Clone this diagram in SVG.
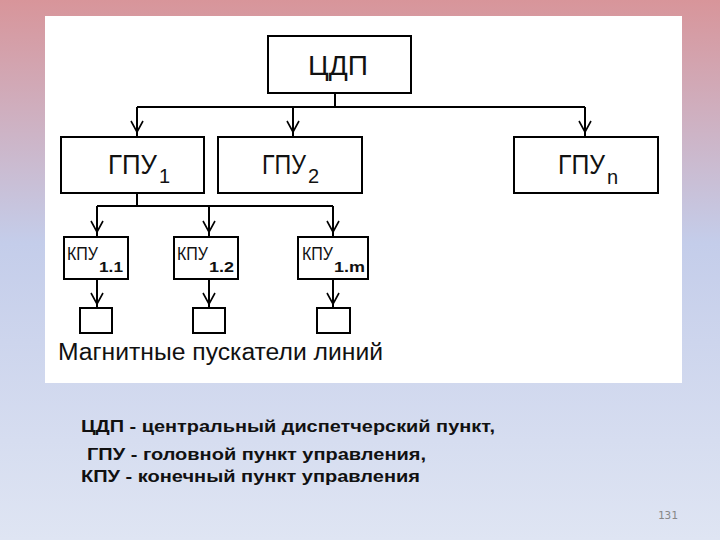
<svg xmlns="http://www.w3.org/2000/svg" width="720" height="540" viewBox="0 0 720 540">
<defs>
<linearGradient id="bg" x1="0" y1="0" x2="0" y2="1">
<stop offset="0" stop-color="#d8959a"/>
<stop offset="0.45" stop-color="#c4cdea"/>
<stop offset="1" stop-color="#dfe5f3"/>
</linearGradient>
<marker id="v" markerWidth="14" markerHeight="14" refX="7" refY="12" orient="0" markerUnits="userSpaceOnUse" viewBox="0 0 14 14">
<path d="M1,1 L7,12 L13,1" fill="none" stroke="#000" stroke-width="1.6"/>
</marker>
<style>
.box{fill:#fff;stroke:#000;stroke-width:2}
.ln{fill:none;stroke:#000;stroke-width:2}
.t{font-family:"Liberation Sans",Arial,sans-serif;fill:#111}
.leg{font-family:"Liberation Sans",Arial,sans-serif;font-weight:bold;font-size:17px;fill:#111}
</style>
</defs>
<rect x="0" y="0" width="720" height="540" fill="url(#bg)"/>
<rect x="45" y="16" width="637" height="367" fill="#fff"/>

<g id="connectors">
<path class="ln" d="M335,93 V107 M137,107 H585"/>
<path class="ln" d="M137,107 V132" marker-end="url(#v)"/>
<path class="ln" d="M137,132 V137"/>
<path class="ln" d="M293,107 V132" marker-end="url(#v)"/>
<path class="ln" d="M293,132 V137"/>
<path class="ln" d="M585,107 V132" marker-end="url(#v)"/>
<path class="ln" d="M585,132 V137"/>
<path class="ln" d="M137,193 V206 M97,206 H333"/>
<path class="ln" d="M97,206 V232" marker-end="url(#v)"/>
<path class="ln" d="M97,232 V237"/>
<path class="ln" d="M209,206 V232" marker-end="url(#v)"/>
<path class="ln" d="M209,232 V237"/>
<path class="ln" d="M333,206 V232" marker-end="url(#v)"/>
<path class="ln" d="M333,232 V237"/>
<path class="ln" d="M97,279 V304" marker-end="url(#v)"/>
<path class="ln" d="M97,304 V308"/>
<path class="ln" d="M209,279 V304" marker-end="url(#v)"/>
<path class="ln" d="M209,304 V308"/>
<path class="ln" d="M333,279 V304" marker-end="url(#v)"/>
<path class="ln" d="M333,304 V308"/>
</g>

<g id="cdp">
<rect class="box" x="268" y="36" width="143" height="57"/>
<text class="t" x="308" y="75" font-size="28" textLength="60" lengthAdjust="spacingAndGlyphs">ЦДП</text>
</g>
<g id="gpu1">
<rect class="box" x="61" y="137" width="143" height="56"/>
<text class="t" x="108" y="174" font-size="28" textLength="49" lengthAdjust="spacingAndGlyphs">ГПУ</text>
<text class="t" x="159" y="183" font-size="20">1</text>
</g>
<g id="gpu2">
<rect class="box" x="218" y="137" width="144" height="56"/>
<text class="t" x="262" y="174" font-size="28" textLength="44" lengthAdjust="spacingAndGlyphs">ГПУ</text>
<text class="t" x="308" y="183" font-size="20">2</text>
</g>
<g id="gpun">
<rect class="box" x="514" y="137" width="144" height="56"/>
<text class="t" x="558" y="174" font-size="28" textLength="47" lengthAdjust="spacingAndGlyphs">ГПУ</text>
<text class="t" x="607" y="184" font-size="20">n</text>
</g>
<g id="kpu11">
<rect class="box" x="64" y="237" width="64" height="42"/>
<text class="t" x="67" y="260" font-size="18" textLength="31" lengthAdjust="spacingAndGlyphs">КПУ</text>
<text class="t" x="99" y="272" font-size="15" font-weight="bold" textLength="24" lengthAdjust="spacingAndGlyphs">1.1</text>
</g>
<g id="kpu12">
<rect class="box" x="174" y="237" width="64" height="42"/>
<text class="t" x="177" y="260" font-size="18" textLength="31" lengthAdjust="spacingAndGlyphs">КПУ</text>
<text class="t" x="209" y="272" font-size="15" font-weight="bold" textLength="25" lengthAdjust="spacingAndGlyphs">1.2</text>
</g>
<g id="kpu1m">
<rect class="box" x="298" y="237" width="70" height="42"/>
<text class="t" x="302" y="260" font-size="18" textLength="31" lengthAdjust="spacingAndGlyphs">КПУ</text>
<text class="t" x="334" y="272" font-size="15" font-weight="bold" textLength="31" lengthAdjust="spacingAndGlyphs">1.m</text>
</g>
<g id="ms1"><rect class="box" x="80" y="308" width="32" height="25"/></g>
<g id="ms2"><rect class="box" x="193" y="308" width="32" height="25"/></g>
<g id="ms3"><rect class="box" x="317" y="308" width="33" height="25"/></g>
<text class="t" x="58" y="360" font-size="23" textLength="325" lengthAdjust="spacingAndGlyphs">Магнитные пускатели линий</text>

<text class="leg" x="81" y="432" textLength="414" lengthAdjust="spacingAndGlyphs">ЦДП - центральный диспетчерский пункт,</text>
<text class="leg" x="87" y="460" textLength="339" lengthAdjust="spacingAndGlyphs">ГПУ - головной пункт управления,</text>
<text class="leg" x="81" y="482" textLength="339" lengthAdjust="spacingAndGlyphs">КПУ - конечный пункт управления</text>
<text x="658" y="519" font-family="'DejaVu Sans Mono',monospace" font-size="11" fill="#888">131</text>
</svg>
